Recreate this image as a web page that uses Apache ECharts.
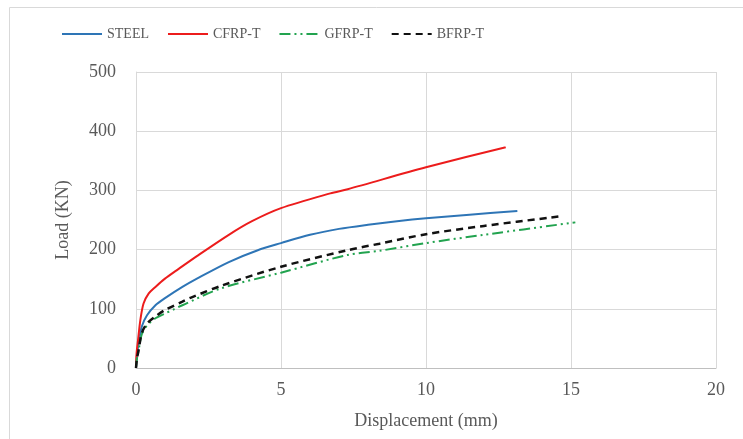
<!DOCTYPE html>
<html>
<head>
<meta charset="utf-8">
<script src="https://cdn.jsdelivr.net/npm/echarts@6/dist/echarts.min.js"></script>
<style>
  html, body { margin: 0; padding: 0; background: #fff; }
  #main { width: 743px; height: 439px; }
</style>
</head>
<body>
<div id="main"></div>
<script>
// displacement (mm) / load (kN)
var steelDisp = [0, 0.03, 0.09, 0.2, 0.38, 0.67, 1.0, 1.6, 2.1, 3.2, 4.2, 5, 6, 7, 8, 9, 10, 11.5, 13.15];
var steelLoad = [0, 20, 42, 70, 89, 106, 118, 137, 151, 179, 199, 211, 225, 235, 242, 248, 253, 259, 265];

var cfrpDisp = [0, 0.02, 0.07, 0.15, 0.26, 0.44, 0.67, 1.0, 1.4, 2.1, 3.2, 4.0, 5, 6.7, 7.3, 10, 12.75];
var cfrpLoad = [0, 25, 47, 81, 109, 126, 137, 151, 165, 189, 225, 248, 270, 295, 302, 339, 373];

var gfrpDisp = [0, 0.03, 0.09, 0.2, 0.38, 0.67, 1.0, 1.3, 1.6, 2.9, 5, 7.3, 8.4, 10, 12, 15.15];
var gfrpLoad = [0, 15, 30, 57, 72, 84, 92, 99, 106, 134, 161, 191, 198, 211, 225, 246];

var bfrpDisp = [0, 0.03, 0.09, 0.2, 0.38, 0.67, 1.0, 1.6, 1.9, 3.0, 5, 7.3, 8.4, 10, 12, 14.6];
var bfrpLoad = [0, 15, 30, 59, 75, 87, 98, 112, 119, 140, 171, 199, 210, 226, 240, 256];

var seriesNames = ['STEEL', 'CFRP-T', 'GFRP-T', 'BFRP-T'];

function pairs(xs, ys) {
  var out = [];
  for (var i = 0; i < xs.length; i++) out.push([xs[i], ys[i]]);
  return out;
}

var font = 'Liberation Serif';
var txt = '#595959';

var chart = echarts.init(document.getElementById('main'));
var option = {
  animation: false,
  graphic: [{
    type: 'rect',
    shape: { x: 9.5, y: 7.5, width: 800, height: 500 },
    style: { fill: 'none', stroke: '#d9d9d9', lineWidth: 1 },
    silent: true
  }],
  legend: {
    left: 56,
    top: 22,
    itemWidth: 40,
    itemHeight: 14,
    itemGap: 18,
    itemStyle: { opacity: 0 },
    textStyle: { fontFamily: font, fontSize: 14, color: txt },
    data: seriesNames
  },
  grid: { left: 136, right: 27, top: 72, bottom: 71 },
  xAxis: {
    type: 'value',
    min: 0, max: 20, interval: 5,
    name: 'Displacement (mm)',
    nameLocation: 'middle',
    nameGap: 44,
    nameTextStyle: { fontFamily: font, fontSize: 18, color: txt },
    axisLine: { lineStyle: { color: '#bfbfbf' } },
    axisTick: { show: false },
    axisLabel: { fontFamily: font, fontSize: 18, color: txt, margin: 13 },
    splitLine: { show: true, lineStyle: { color: '#d9d9d9' } }
  },
  yAxis: {
    type: 'value',
    min: 0, max: 500, interval: 100,
    name: 'Load (KN)',
    nameLocation: 'middle',
    nameGap: 64,
    nameTextStyle: { fontFamily: font, fontSize: 18, color: txt },
    axisLine: { show: true, lineStyle: { color: '#d9d9d9' } },
    axisTick: { show: false },
    axisLabel: { fontFamily: font, fontSize: 18, color: txt, margin: 20 },
    splitLine: { lineStyle: { color: '#d9d9d9' } }
  },
  series: [
    {
      name: 'STEEL', type: 'line', symbol: 'none', smooth: 0.3,
      data: pairs(steelDisp, steelLoad),
      lineStyle: { color: '#2e75b6', width: 2 }, itemStyle: { color: '#2e75b6' }
    },
    {
      name: 'CFRP-T', type: 'line', symbol: 'none', smooth: 0.3,
      data: pairs(cfrpDisp, cfrpLoad),
      lineStyle: { color: '#ec1c1c', width: 2 }, itemStyle: { color: '#ec1c1c' }
    },
    {
      name: 'GFRP-T', type: 'line', symbol: 'none', smooth: 0.3,
      data: pairs(gfrpDisp, gfrpLoad),
      lineStyle: { color: '#22a34f', width: 2, type: [11, 4, 2, 4, 2, 4] }, itemStyle: { color: '#22a34f' }
    },
    {
      name: 'BFRP-T', type: 'line', symbol: 'none', smooth: 0.3,
      data: pairs(bfrpDisp, bfrpLoad),
      lineStyle: { color: '#111111', width: 2.5, type: [7, 5] }, itemStyle: { color: '#111111' }
    }
  ]
};
chart.setOption(option);
</script>
</body>
</html>
